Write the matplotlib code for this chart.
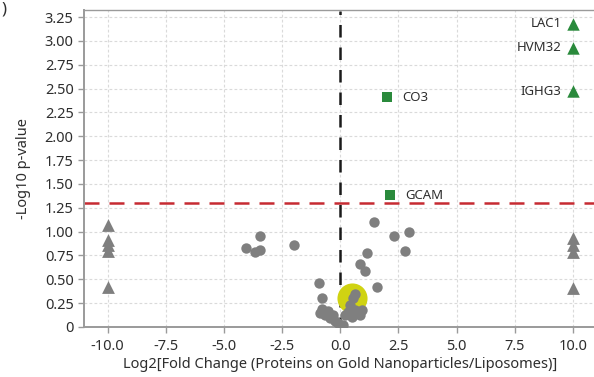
import matplotlib
matplotlib.use("Agg")
import matplotlib.pyplot as plt

plt.rcParams['font.family'] = ['Noto Sans', 'DejaVu Sans']

# Proteins detected in both samples (not significant)
ns_fc = [-4.05, -3.68, -3.45, -3.45, -1.98,
         1.46, 2.32, 2.97, 2.80, 1.16, 0.86, 1.05, 1.56,
         -0.93, -0.78, -0.80, -0.52, -0.66, -0.87, -0.30, -0.44, -0.23, -0.09, 0.13,
         0.63, 0.55, 0.42, 0.34, 0.63, 0.92, 0.85, 0.49, 0.22]
ns_p = [0.83, 0.79, 0.95, 0.81, 0.86,
        1.10, 0.95, 1.00, 0.80, 0.78, 0.66, 0.59, 0.42,
        0.46, 0.30, 0.19, 0.17, 0.13, 0.15, 0.13, 0.09, 0.06, 0.04, 0.02,
        0.35, 0.30, 0.23, 0.16, 0.18, 0.18, 0.13, 0.11, 0.13]

# Proteins found in only one sample (fold change clipped to +/-10), not significant
ns_only_fc = [-10, -10, -10, -10, -10, 10, 10, 10, 10]
ns_only_p = [1.07, 0.91, 0.86, 0.80, 0.42, 0.93, 0.86, 0.79, 0.41]

# Significant proteins
sig_sq_names = ["CO3", "GCAM"]
sig_sq_fc = [2.0, 2.14]
sig_sq_p = [2.41, 1.38]

sig_tri_names = ["LAC1", "HVM32", "IGHG3"]
sig_tri_fc = [10, 10, 10]
sig_tri_p = [3.18, 2.93, 2.47]

# Highlighted region near the origin
highlight_fc = [0.49]
highlight_p = [0.30]

p_threshold = 1.30

x_ticks = [-10.0, -7.5, -5.0, -2.5, 0.0, 2.5, 5.0, 7.5, 10.0]
y_ticks = [0, 0.25, 0.5, 0.75, 1.0, 1.25, 1.5, 1.75, 2.0, 2.25, 2.5, 2.75, 3.0, 3.25]

grey = "#7f7f7f"
green = "#2a8a3c"
text_col = "#2e2e2e"

fig = plt.figure(figsize=(5.94, 3.77), dpi=100)
ax = fig.add_axes([84 / 594, 50 / 377, 512 / 594, 317.5 / 377])
ax.set_xlim(-11.01, 10.99)
ax.set_ylim(0, 3.33)

ax.set_xticks(x_ticks)
ax.set_xticklabels([f"{v:.1f}" for v in x_ticks])
ax.set_yticks(y_ticks)
ax.set_yticklabels(["0" if v == 0 else f"{v:.2f}" for v in y_ticks])
ax.grid(True, color="#dadada", linestyle=(0, (2.5, 2)), linewidth=0.8)
ax.set_axisbelow(True)

ax.spines["right"].set_visible(False)
for side in ("left", "bottom", "top"):
    ax.spines[side].set_color("#9a9a9a")
    ax.spines[side].set_linewidth(1.4)
ax.spines["top"].set_linewidth(1.0)
ax.tick_params(axis="both", colors="#9a9a9a", length=4, width=1, labelsize=10.5,
               labelcolor=text_col)
ax.tick_params(axis="x", pad=5)

ax.axhline(p_threshold, color="#c62b32", linestyle=(0, (6, 4)), linewidth=1.8, zorder=2)
ax.axvline(0, color="#1a1a1a", linestyle=(1, (5, 4)), linewidth=1.8, zorder=2, ymax=0.995)

ax.scatter(highlight_fc, highlight_p, s=470, color="#d0d312", zorder=3, linewidths=0)
ax.scatter(ns_fc, ns_p, s=56, color=grey, zorder=4, linewidths=0)
ax.scatter(ns_only_fc, ns_only_p, s=85, marker="^", color=grey, zorder=4, linewidths=0)
ax.scatter(sig_sq_fc, sig_sq_p, s=48, marker="s", color=green, zorder=5, linewidths=0)
ax.scatter(sig_tri_fc, sig_tri_p, s=80, marker="^", color=green, zorder=5, linewidths=0)

for name, x, y in zip(sig_sq_names, sig_sq_fc, sig_sq_p):
    ax.annotate(name, (x, y), xytext=(11, 0), textcoords="offset points",
                ha="left", va="center", fontsize=9.5, color=text_col)
for name, x, y in zip(sig_tri_names, sig_tri_fc, sig_tri_p):
    ax.annotate(name, (x, y), xytext=(-8, 0), textcoords="offset points",
                ha="right", va="center", fontsize=9.5, color=text_col)

ax.set_xlabel("Log2[Fold Change (Proteins on Gold Nanoparticles/Liposomes)]",
              fontsize=10.5, color=text_col, labelpad=2)
ax.set_ylabel("-Log10 p-value", fontsize=10.5, color=text_col, labelpad=10)

fig.text(0.003, 0.975, ")", fontsize=12, color=text_col, ha="left", va="center")

fig.savefig("out.png", dpi=100)
